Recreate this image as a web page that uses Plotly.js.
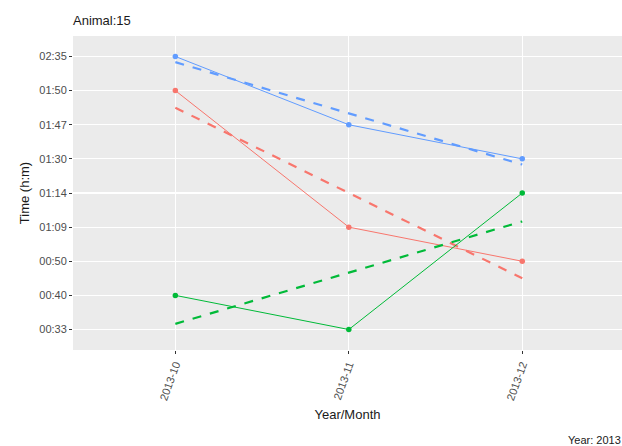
<!DOCTYPE html>
<html><head><meta charset="utf-8">
<script src="https://cdn.plot.ly/plotly-3.0.1.min.js"></script>
<style>html,body{margin:0;padding:0;background:#fff}#chart{width:622px;height:446px}</style>
</head><body><div id="chart"></div>
<script>
const months = ["2013-10", "2013-11", "2013-12"];
const timeLevels = ["00:33", "00:40", "00:50", "01:09", "01:14", "01:30", "01:47", "01:50", "02:35"];
const seriesNames = ["A", "B", "C"];
const seriesColors = ["#F8766D", "#00BA38", "#619CFF"];
const redTimes = ["01:50", "01:09", "00:50"];
const greenTimes = ["00:40", "00:33", "01:14"];
const blueTimes = ["02:35", "01:47", "01:30"];
const seriesTimes = [redTimes, greenTimes, blueTimes];

const xIdx = months.map((m, i) => i);
function lvl(t) { return timeLevels.indexOf(t) + 1; }
function lmFit(xs, ys) {
  const n = xs.length;
  const mx = xs.reduce((a, b) => a + b, 0) / n;
  const my = ys.reduce((a, b) => a + b, 0) / n;
  let sxy = 0, sxx = 0;
  for (let i = 0; i < n; i++) { sxy += (xs[i] - mx) * (ys[i] - my); sxx += (xs[i] - mx) ** 2; }
  const b = sxy / sxx, a = my - b * mx;
  return xs.map(x => a + b * x);
}

const traces = [];
seriesTimes.forEach((times, k) => {
  const ys = times.map(lvl);
  traces.push({
    x: xIdx, y: ys, type: "scatter", mode: "lines+markers", name: seriesNames[k],
    line: { color: seriesColors[k], width: 1 },
    marker: { color: seriesColors[k], size: 5.5 },
    showlegend: false, hoverinfo: "skip"
  });
  traces.push({
    x: xIdx, y: lmFit(xIdx, ys), type: "scatter", mode: "lines",
    line: { color: seriesColors[k], width: 2.2, dash: "dash" },
    showlegend: false, hoverinfo: "skip"
  });
});

const layout = {
  width: 622, height: 446,
  margin: { l: 73, r: 0, t: 36, b: 96 },
  paper_bgcolor: "#ffffff", plot_bgcolor: "#EBEBEB",
  font: { family: "Liberation Sans, Arial, sans-serif", color: "#4D4D4D", size: 11 },
  title: { text: "Animal:15", x: 0, xref: "paper", xanchor: "left", y: 1 - 20 / 446, yref: "container", yanchor: "middle",
           font: { size: 13, color: "#1a1a1a" } },
  xaxis: {
    range: [-0.59, 2.575], tickvals: xIdx, ticktext: months, tickangle: -70,
    showgrid: true, gridcolor: "#ffffff", gridwidth: 1.1, zeroline: false,
    ticks: "outside", ticklen: 3, tickcolor: "#333333", showline: false,
    tickfont: { size: 11, color: "#4D4D4D" },
    title: { text: "Year/Month", font: { size: 13, color: "#1a1a1a" }, standoff: 8 }
  },
  yaxis: {
    range: [0.4, 9.6], tickvals: timeLevels.map((t, i) => i + 1), ticktext: timeLevels,
    showgrid: true, gridcolor: "#ffffff", gridwidth: 1.1, zeroline: false,
    ticks: "outside", ticklen: 3, tickcolor: "#333333", showline: false,
    tickfont: { size: 11, color: "#4D4D4D" },
    title: { text: "Time (h:m)", font: { size: 13, color: "#1a1a1a" }, standoff: 6 }
  },
  annotations: [{
    text: "Year: 2013", xref: "paper", yref: "paper", x: (566 - 73) / 549, y: (350 - 440) / 314,
    xanchor: "left", yanchor: "middle", showarrow: false, font: { size: 11, color: "#1a1a1a" }
  }]
};
Plotly.newPlot("chart", traces, layout, { staticPlot: true, displayModeBar: false });
</script></body></html>
